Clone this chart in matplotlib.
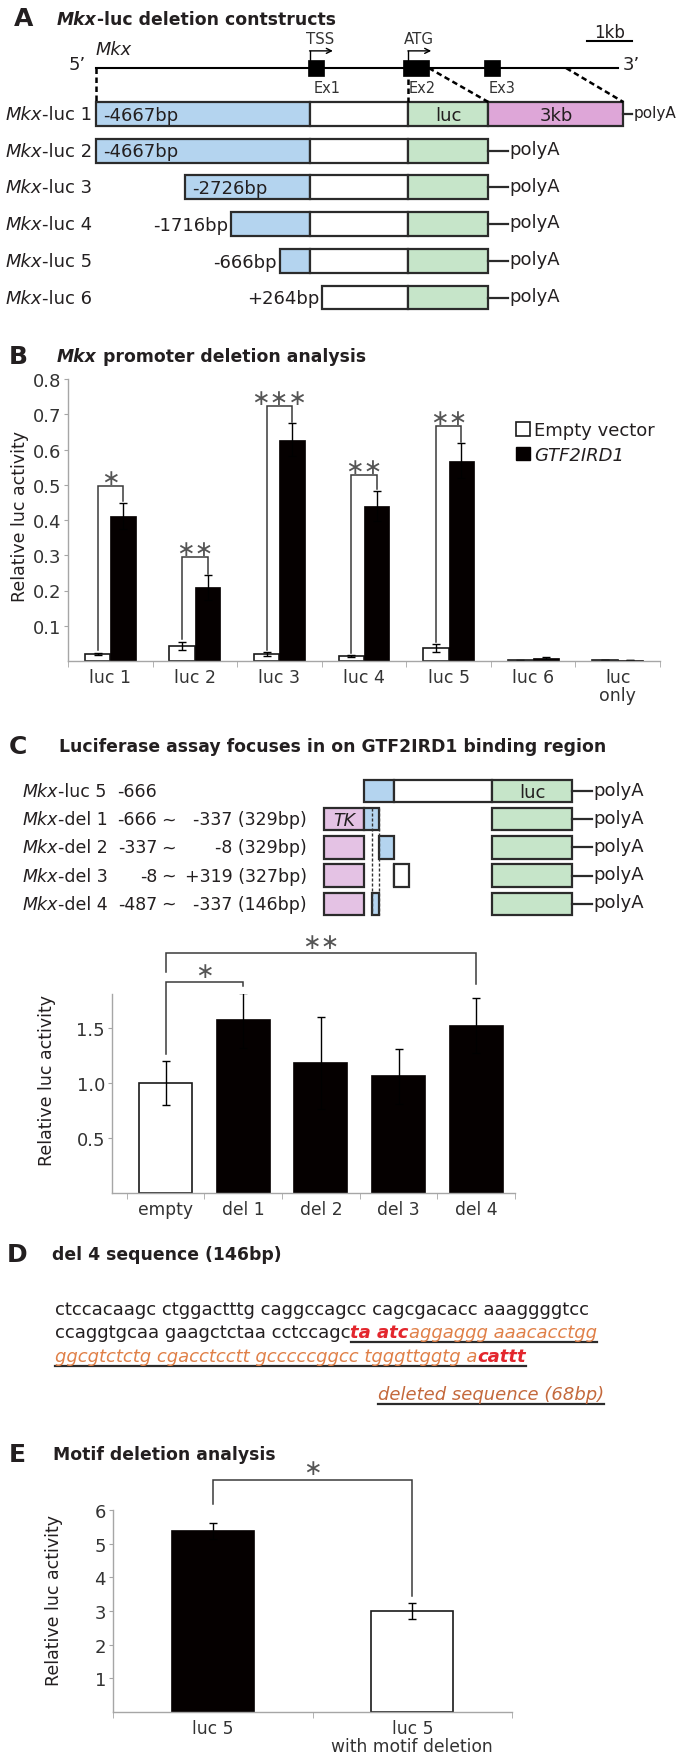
import matplotlib
matplotlib.use("Agg")
import matplotlib.pyplot as plt
from matplotlib.patches import Rectangle, Patch
import numpy as np

W, H = 680, 1758
plt.rcParams["font.family"] = ["DejaVu Sans"]
plt.rcParams["text.color"] = "#231f20"

TXT = "#231f20"
AXC = "#a6a6a6"
BLACK = "#050000"
BLUE = "#b4d4ef"
GREEN = "#c6e5c9"
PINK = "#dea6d8"
TKPINK = "#e4c2e4"
EDGE = "#2b2b2b"
RED = "#e3262d"
ORANGE = "#e08048"
BROWN = "#c4693c"
STAR = "#555555"

# ---------------- A: deletion constructs (bp relative to TSS) ----------------
a_names = ["-luc 1", "-luc 2", "-luc 3", "-luc 4", "-luc 5", "-luc 6"]
a_start = [-4667, -4667, -2726, -1716, -666, 264]
a_start_lbl = ["-4667bp", "-4667bp", "-2726bp", "-1716bp", "-666bp", "+264bp"]
a_lbl_inside = [True, True, True, False, False, False]
a_tail = [True, False, False, False, False, False]
TSS, ATG, LUC_END, TAIL_END = 0, 2150, 3900, 6850
GENE_START, GENE_END = -4667, 6730
exon_span = [(-40, 310), (2040, 2600), (3800, 4150)]
exon_names = ["Ex1", "Ex2", "Ex3"]

# ---------------- B: promoter deletion analysis ----------------
b_groups = ["luc 1", "luc 2", "luc 3", "luc 4", "luc 5", "luc 6", "luc\nonly"]
b_empty = [0.020, 0.043, 0.020, 0.014, 0.037, 0.002, 0.002]
b_empty_err = [0.004, 0.012, 0.006, 0.003, 0.012, 0.001, 0.0]
b_gtf = [0.412, 0.209, 0.628, 0.440, 0.568, 0.008, 0.002]
b_gtf_err = [0.037, 0.035, 0.047, 0.043, 0.050, 0.002, 0.0]
b_stars = ["∗", "∗∗", "∗∗∗", "∗∗", "∗∗"]
b_bracket = [0.497, 0.295, 0.724, 0.528, 0.668]

# ---------------- C: focused deletions ----------------
c_names = ["-luc 5", "-del 1", "-del 2", "-del 3", "-del 4"]
c_from = [-666, -666, -337, -8, -487]
c_to = [ATG, -337, -8, 319, -337]
c_from_lbl = ["-666", "-666", "-337", "-8", "-487"]
c_to_lbl = ["", "-337 (329bp)", "-8 (329bp)", "+319 (327bp)", "-337 (146bp)"]
TK_START = -1530

c_groups = ["empty", "del 1", "del 2", "del 3", "del 4"]
c_vals = [1.00, 1.57, 1.18, 1.06, 1.52]
c_err = [0.20, 0.25, 0.42, 0.25, 0.25]
c_br_pair = [(0, 1), (0, 4)]
c_br_top = [1.918, 2.18]
c_br_left = [1.26, 2.01]
c_br_right = [1.88, 1.90]
c_br_star = ["∗", "∗∗"]

# ---------------- D: del 4 sequence ----------------
seq1 = "ctccacaagc ctggactttg caggccagcc cagcgacacc aaaggggtcc"
seq2 = ["ccaggtgcaa gaagctctaa cctccagc", "ta atc", "aggaggg aaacacctgg"]
seq3 = ["ggcgtctctg cgacctcctt gcccccggcc tgggttggtg a", "cattt"]

# ---------------- E: motif deletion ----------------
e_groups = ["luc 5", "luc 5\nwith motif deletion"]
e_vals = [5.37, 3.00]
e_err = [0.23, 0.23]

IT = dict(style="italic")
BO = dict(weight="bold")
BI = dict(style="italic", weight="bold")

fig = plt.figure(figsize=(W / 100, H / 100), dpi=100)


def px_axes(l, t, r, b):
    return fig.add_axes([l / W, 1 - b / H, (r - l) / W, (b - t) / H])


canvas = px_axes(0, 0, W, H)
canvas.set_xlim(0, W)
canvas.set_ylim(H, 0)
canvas.axis("off")


def rich(ax, x, y, parts, ha="left", **kw):
    order = parts if ha == "left" else parts[::-1]
    s0, p0 = order[0]
    t = ax.text(x, y, s0, ha=ha, va="center", **{**kw, **p0})
    out = [t]
    for s, p in order[1:]:
        anchor = (1, 0) if ha == "left" else (0, 0)
        t = ax.annotate(s, xy=anchor, xycoords=t, ha=ha, va="bottom", **{**kw, **p})
        out.append(t)
    return out if ha == "left" else out[::-1]


def style_axes(ax, ncat, ticks, ticklbls, xlbls, xfs=12.5):
    for s in ["top", "right"]:
        ax.spines[s].set_visible(False)
    for s in ["left", "bottom"]:
        ax.spines[s].set_color(AXC)
        ax.spines[s].set_linewidth(1)
    ax.set_yticks(ticks, ticklbls)
    ax.tick_params(axis="y", colors=AXC, labelcolor="#333333", labelsize=13,
                   length=3, pad=2)
    ax.set_xticks(np.arange(ncat), xlbls)
    ax.set_xticks(np.arange(ncat + 1) - 0.5, minor=True)
    ax.tick_params(axis="x", which="major", length=0, pad=5, labelsize=xfs,
                   labelcolor="#333333")
    ax.tick_params(axis="x", which="minor", length=4, colors=AXC)
    for t in ax.get_xticklabels():
        t.set_linespacing(1.0)


def bracket(ax, x0, x1, y0, top, y1, star, sy, fs=16):
    ax.plot([x0, x0, x1, x1], [y0, top, top, y1], color="#3a3a3a", lw=1.1,
            clip_on=False, solid_joinstyle="miter")
    ax.text((x0 + x1) / 2, sy, star, ha="center", va="center", fontsize=fs,
            color=STAR, clip_on=False)


# ================= Panel A =================
SC = 0.04575          # px per bp
axA = px_axes(0, 0, W, 325)
axA.set_xlim(-310 / SC, (W - 310) / SC)
RS, R0 = 36.7, 115
axA.set_ylim((325 - R0) / RS, -R0 / RS)
axA.axis("off")
GR = -1.25
BH = 0.65

canvas.text(14, 19, "A", fontsize=18, weight="bold", va="center")
rich(canvas, 57, 20, [("Mkx", BI), ("-luc deletion contstructs", BO)], fontsize=12.4)

axA.plot([GENE_START, GENE_END], [GR, GR], color="black", lw=1.5)
for (s, e), nm in zip(exon_span, exon_names):
    axA.add_patch(Rectangle((s, GR - 0.22), e - s, 0.44, fc="black", ec="black", lw=0.5))
    axA.text(s + 110, GR + 0.52, nm, fontsize=10.5, ha="left", va="center", color="#333333")
for pos, lbl in [(TSS, "TSS"), (ATG, "ATG")]:
    axA.plot([pos, pos], [GR - 0.22, GR - 0.47], color="black", lw=1)
    axA.annotate("", xy=(pos + 500, GR - 0.47), xytext=(pos - 10, GR - 0.47),
                 arrowprops=dict(arrowstyle="->", lw=1, color="black",
                                 shrinkA=0, shrinkB=0, mutation_scale=9))
    axA.text(pos + 230, GR - 0.8, lbl, fontsize=10.8, ha="center", va="center", color="#333333")
axA.text(-4680, GR - 0.52, "Mkx", fontsize=12.8, ha="left", va="center", **IT)
axA.text(-4896, GR - 0.1, "5’", fontsize=13, ha="right", va="center")
axA.text(6841, GR - 0.1, "3’", fontsize=13, ha="left", va="center")
axA.plot([6055, 7038], [-1.99, -1.99], color="black", lw=1.5)
axA.text(6546, -2.24, "1kb", fontsize=12, ha="center", va="center")

dash = dict(color="black", lw=1.8, dashes=(2.2, 1.4))
axA.plot([GENE_START, GENE_START], [GR, -BH / 2], **dash)
axA.plot([ATG, ATG], [GR + 0.3, -BH / 2], **dash)
axA.plot([2600, LUC_END], [GR, -BH / 2], **dash)
axA.plot([5600, TAIL_END], [GR, -BH / 2], **dash)

for i in range(len(a_names)):
    s = a_start[i]
    y0 = i - BH / 2
    segs = []
    if s < 0:
        segs.append((s, TSS, BLUE))
    segs.append((max(s, TSS), ATG, "white"))
    segs.append((ATG, LUC_END, GREEN))
    end = LUC_END
    if a_tail[i]:
        segs.append((LUC_END, TAIL_END, PINK))
        end = TAIL_END
    for a, b, c in segs:
        axA.add_patch(Rectangle((a, y0), b - a, BH, fc=c, ec=EDGE, lw=1.6))
    if a_tail[i]:
        L, gap, pfs = 190, 30, 11
    else:
        L, gap, pfs = 430, 20, 13
    axA.plot([end, end + L], [i, i], color=EDGE, lw=1.6)
    axA.text(end + L + gap, i - 0.05, "polyA", fontsize=pfs, ha="left", va="center")
    if a_lbl_inside[i]:
        axA.text(s + 150, i + 0.02, a_start_lbl[i], fontsize=13, ha="left", va="center")
    else:
        axA.text(s - 60, i + 0.02, a_start_lbl[i], fontsize=13, ha="right", va="center")
    rich(axA, -4765, i, [("Mkx", IT), (a_names[i], {})], ha="right", fontsize=13)
    if a_tail[i]:
        axA.text((ATG + LUC_END) / 2, i + 0.02, "luc", fontsize=13, ha="center", va="center")
        axA.text((LUC_END + TAIL_END) / 2, i + 0.02, "3kb", fontsize=13, ha="center", va="center")

# ================= Panel B =================
canvas.text(9, 357, "B", fontsize=18, weight="bold", va="center")
rich(canvas, 57, 357, [("Mkx", BI), (" promoter deletion analysis", BO)], fontsize=12.4)

axB = px_axes(68, 380, 660, 662)
xb = np.arange(len(b_groups))
ek = dict(lw=1, capthick=1, ecolor="black")
axB.bar(xb - 0.15, b_empty, 0.3, color="white", edgecolor="#1a1a1a", lw=1.2,
        yerr=b_empty_err, capsize=2.7, error_kw=ek)
axB.bar(xb + 0.15, b_gtf, 0.3, color=BLACK, edgecolor=BLACK, lw=0.5,
        yerr=b_gtf_err, capsize=2.7, error_kw=ek)
axB.set_xlim(-0.5, len(b_groups) - 0.5)
axB.set_ylim(0, 0.8)
yt = np.round(np.arange(1, 9) * 0.1, 1)
style_axes(axB, len(b_groups), yt, [f"{v:.1f}" for v in yt], b_groups)
for i, (top, st) in enumerate(zip(b_bracket, b_stars)):
    bracket(axB, i - 0.15, i + 0.15, b_empty[i] + b_empty_err[i] + 0.006, top,
            b_gtf[i] + b_gtf_err[i] + 0.004, st, top + 0.022)
leg = axB.legend([Patch(fc="white", ec="#1a1a1a", lw=1.2), Patch(fc=BLACK, ec=BLACK)],
                 ["Empty vector", "GTF2IRD1"], loc="upper left",
                 bbox_to_anchor=(0.757, 0.85), frameon=False, fontsize=13,
                 handlelength=0.75, handleheight=0.75, handletextpad=0.25,
                 labelspacing=0.35, borderpad=0, borderaxespad=0)
leg.get_texts()[1].set_style("italic")
canvas.text(20, 517, "Relative luc activity", rotation=90, fontsize=12.5,
            ha="center", va="center")

# ================= Panel C diagram =================
canvas.text(9, 747, "C", fontsize=18, weight="bold", va="center")
canvas.text(59, 747, "Luciferase assay focuses in on GTF2IRD1 binding region",
            fontsize=12.4, weight="bold", va="center")

axCd = px_axes(0, 765, W, 925)
TSS_C = 394
axCd.set_xlim(-TSS_C / SC, (W - TSS_C) / SC)
RSC, R0C = 28.2, 792
axCd.set_ylim((925 - R0C) / RSC, (765 - R0C) / RSC)
axCd.axis("off")
CH = 0.8
for i in range(len(c_names)):
    y0 = i - CH / 2
    fr, to = c_from[i], c_to[i]
    if i > 0:
        axCd.add_patch(Rectangle((TK_START, y0), -666 - TK_START, CH, fc=TKPINK, ec=EDGE, lw=1.6))
    if fr < 0:
        axCd.add_patch(Rectangle((fr, y0), min(to, 0) - fr, CH, fc=BLUE, ec=EDGE, lw=1.6))
    if to > 0 and i > 0:
        axCd.add_patch(Rectangle((0, y0), to, CH, fc="white", ec=EDGE, lw=1.6))
    if i == 0:
        axCd.add_patch(Rectangle((0, y0), ATG, CH, fc="white", ec=EDGE, lw=1.6))
    axCd.add_patch(Rectangle((ATG, y0), LUC_END - ATG, CH, fc=GREEN, ec=EDGE, lw=1.6))
    axCd.plot([LUC_END, LUC_END + 430], [i, i], color=EDGE, lw=1.6)
    axCd.text(LUC_END + 450, i - 0.05, "polyA", fontsize=13, ha="left", va="center")
    rich(axCd, (23 - TSS_C) / SC, i, [("Mkx", IT), (c_names[i], {})], ha="left", fontsize=12.5)
    axCd.text((157 - TSS_C) / SC, i, c_from_lbl[i], fontsize=12.5, ha="right", va="center")
    if c_to_lbl[i]:
        axCd.text((168 - TSS_C) / SC, i, "~", fontsize=12.5, ha="center", va="center")
        axCd.text((307 - TSS_C) / SC, i, c_to_lbl[i], fontsize=12.5, ha="right", va="center")
axCd.text((ATG + LUC_END) / 2, 0.02, "luc", fontsize=13, ha="center", va="center")
axCd.text((TK_START - 666) / 2, 1.02, "TK", fontsize=12.5, ha="center", va="center", **IT)
for xd in [-487, -337]:
    axCd.plot([xd, xd], [0.6, 4.4], color="#333333", lw=1, dashes=(2.2, 1.4))

# ================= Panel C bars =================
axC = px_axes(112, 995, 515, 1194)
xc = np.arange(len(c_groups))
axC.bar(xc, c_vals, 0.68, color=["white"] + [BLACK] * 4, edgecolor=["#1a1a1a"] + [BLACK] * 4,
        lw=1.2, yerr=c_err, capsize=2.7, error_kw=ek)
axC.set_xlim(-0.69, len(c_groups) - 0.5)
axC.set_ylim(0, 1.81)
style_axes(axC, len(c_groups), [0.5, 1.0, 1.5], ["0.5", "1.0", "1.5"], c_groups, xfs=12.3)
for (a, b), top, yl, yr, st in zip(c_br_pair, c_br_top, c_br_left, c_br_right, c_br_star):
    bracket(axC, a, b, yl, top, yr, st, top + 0.1)
canvas.text(47, 1081, "Relative luc activity", rotation=90, fontsize=12.5,
            ha="center", va="center")

# ================= Panel D =================
canvas.text(7, 1255, "D", fontsize=18, weight="bold", va="center")
canvas.text(52, 1255, "del 4 sequence (146bp)", fontsize=12.4, weight="bold", va="center")
canvas.text(55, 1310, seq1, fontsize=13, va="center")
l2 = rich(canvas, 55, 1333, [(seq2[0], {}), (seq2[1], dict(color=RED, **BI)),
                             (seq2[2], dict(color=ORANGE, **IT))], fontsize=13)
l3 = rich(canvas, 55, 1357, [(seq3[0], dict(color=ORANGE, **IT)),
                             (seq3[1], dict(color=RED, **BI))], fontsize=13)
dl = canvas.text(378, 1395, "deleted sequence (68bp)", fontsize=13, color=BROWN,
                 va="center", **IT)

# ================= Panel E =================
canvas.text(9, 1455, "E", fontsize=18, weight="bold", va="center")
canvas.text(53, 1455, "Motif deletion analysis", fontsize=12.4, weight="bold", va="center")
axE = px_axes(113, 1511, 512, 1713)
xe = np.arange(len(e_groups))
axE.bar(xe, e_vals, 0.41, color=[BLACK, "white"], edgecolor=[BLACK, "#1a1a1a"], lw=1.2,
        yerr=e_err, capsize=2.7, error_kw=ek)
axE.set_xlim(-0.5, len(e_groups) - 0.5)
axE.set_ylim(0, 6)
style_axes(axE, len(e_groups), np.arange(1, 7), [str(v) for v in range(1, 7)], e_groups, xfs=12.3)
bracket(axE, 0, 1, 6.18, 6.89, 3.45, "∗", 7.25)
canvas.text(54, 1601, "Relative luc activity", rotation=90, fontsize=12.5,
            ha="center", va="center")

# underlines for panel D, taken from the text extents
fig.canvas.draw()
inv = canvas.transData.inverted()


def underline(first, last, gap=1.0):
    r = fig.canvas.get_renderer()
    b0 = first.get_window_extent(r)
    b1 = last.get_window_extent(r)
    (x0, y0), (x1, _) = inv.transform([(b0.x0, b0.y0), (b1.x1, b1.y0)])
    canvas.plot([x0, x1], [y0 + gap, y0 + gap], color="#2b2b2b", lw=1.6)


underline(l2[1], l2[2])
underline(l3[0], l3[1])
underline(dl, dl)

fig.savefig("out.png", dpi=100)
